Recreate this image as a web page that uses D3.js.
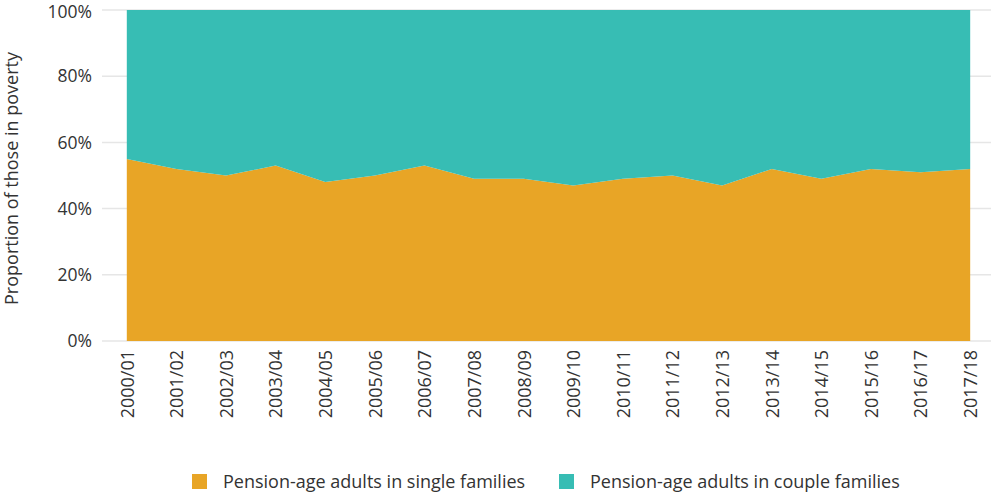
<!DOCTYPE html>
<html>
<head>
<meta charset="utf-8">
<script src="https://cdnjs.cloudflare.com/ajax/libs/d3/7.8.5/d3.min.js"></script>
<style>
  html, body { margin: 0; padding: 0; background: #fff; }
  svg { display: block; font-family: "Open Sans", "Noto Sans", sans-serif; }
</style>
</head>
<body>
<svg id="chart" width="997" height="495"></svg>
<script>
// Financial years
const years = ["2000/01","2001/02","2002/03","2003/04","2004/05","2005/06","2006/07","2007/08","2008/09",
  "2009/10","2010/11","2011/12","2012/13","2013/14","2014/15","2015/16","2016/17","2017/18"];
// Share (%) of pension-age adults in poverty who live in single families
const singleShare = [55, 52, 50, 53, 48, 50, 53, 49, 49, 47, 49, 50, 47, 52, 49, 52, 51, 52];
// Remaining share living in couple families
const coupleShare = singleShare.map(v => 100 - v);
const seriesNames = ["Pension-age adults in single families", "Pension-age adults in couple families"];
const seriesColors = ["#e8a526", "#37bdb4"];
const yTicks = [0, 20, 40, 60, 80, 100];

const svg = d3.select("#chart");
const margin = { left: 102, right: 2, top: 10, bottom: 154 };
const W = 997, H = 495;
const innerW = W - margin.left - margin.right;
const innerH = H - margin.top - margin.bottom;

const g = svg.append("g").attr("transform", `translate(${margin.left},${margin.top})`);

const x = d3.scalePoint().domain(years).range([0, innerW]).padding(0.5);
const y = d3.scaleLinear().domain([0, 100]).range([innerH, 0]);

// Gridlines
g.append("g")
  .selectAll("line")
  .data(yTicks)
  .join("line")
  .attr("x1", 0).attr("x2", innerW - 4)
  .attr("y1", d => y(d)).attr("y2", d => y(d))
  .attr("stroke", "#e6e6e6").attr("stroke-width", 1.5);

// Stacked areas
const rows = years.map((yr, i) => ({ year: yr, single: singleShare[i], couple: coupleShare[i] }));
const stack = d3.stack().keys(["single", "couple"]);
const layers = stack(rows);
const area = d3.area()
  .x(d => x(d.data.year))
  .y0(d => y(d[0]))
  .y1(d => y(d[1]));

g.selectAll("path.layer")
  .data(layers)
  .join("path")
  .attr("class", "layer")
  .attr("d", area)
  .attr("fill", (d, i) => seriesColors[i]);

// Y axis labels
const yAxis = g.append("g")
  .call(d3.axisLeft(y).tickValues(yTicks).tickFormat(d => d + "%").tickSize(0).tickPadding(10));
yAxis.select(".domain").remove();
yAxis.selectAll("text")
  .attr("font-size", 17.5)
  .attr("fill", "#333")
  .attr("font-family", "'Open Sans', 'Noto Sans', sans-serif");
yAxis.selectAll(".tick").filter(d => d === 100).select("text").attr("dy", "0.42em");

// X axis labels (rotated)
const xAxis = g.append("g")
  .attr("transform", `translate(0,${innerH})`)
  .call(d3.axisBottom(x).tickSize(0).tickPadding(0));
xAxis.select(".domain").remove();
xAxis.selectAll("text")
  .attr("font-size", 18)
  .attr("fill", "#333")
  .attr("font-family", "'Open Sans', 'Noto Sans', sans-serif")
  .attr("transform", "rotate(-90)")
  .attr("text-anchor", "end")
  .attr("dy", "0.35em")
  .attr("dx", "-9")
  .attr("y", 0)
  .attr("x", 0);

// Y axis title
svg.append("text")
  .attr("transform", `translate(18,${margin.top + innerH / 2 + 3}) rotate(-90)`)
  .attr("text-anchor", "middle")
  .attr("font-size", 18)
  .attr("fill", "#333")
  .text("Proportion of those in poverty");

// Legend
const legendItems = [
  { x: 192, name: seriesNames[0], color: seriesColors[0] },
  { x: 559, name: seriesNames[1], color: seriesColors[1] }
];
const legend = svg.append("g").attr("transform", "translate(0,474)");
legend.selectAll("rect")
  .data(legendItems)
  .join("rect")
  .attr("x", d => d.x).attr("y", 0)
  .attr("width", 15).attr("height", 15)
  .attr("fill", d => d.color);
legend.selectAll("text")
  .data(legendItems)
  .join("text")
  .attr("x", d => d.x + 31).attr("y", 14)
  .attr("font-size", 18)
  .attr("fill", "#333")
  .text(d => d.name);
</script>
</body>
</html>
